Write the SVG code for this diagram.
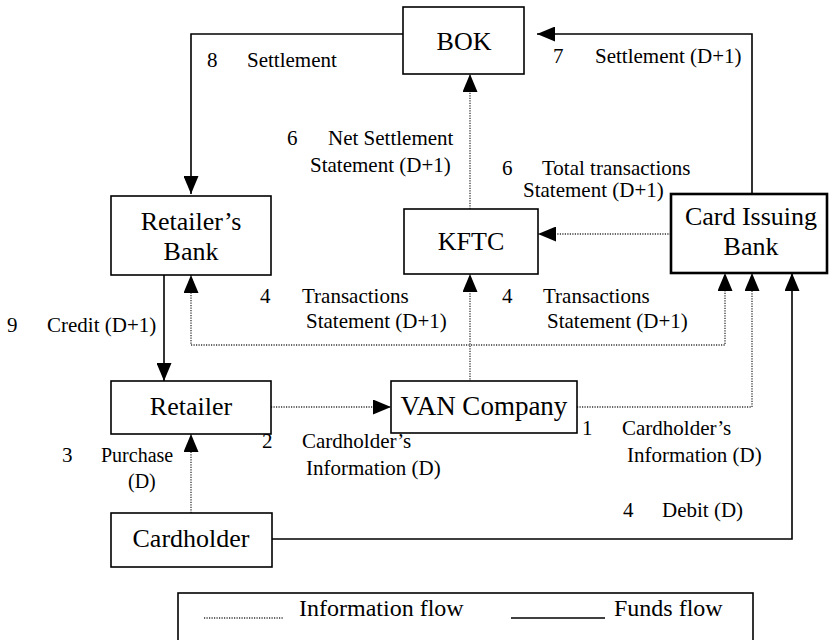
<svg xmlns="http://www.w3.org/2000/svg" width="829" height="640" viewBox="0 0 829 640">
<style>
text{font-family:'Liberation Serif','DejaVu Serif',serif}
.box{fill:#fff;stroke:#000;stroke-width:1.6}
.thick{stroke-width:2.6}
.nt{font-size:26px;fill:#000;text-anchor:middle}
.lb{font-size:21px;fill:#000}
.lg{font-size:24px;fill:#000}
.fund{fill:none;stroke:#000;stroke-width:1.6}
.info{fill:none;stroke:#333;stroke-width:1.3;stroke-dasharray:1.2 1.3}
</style>
<defs>
<marker id="ah" markerUnits="userSpaceOnUse" markerWidth="18" markerHeight="15" refX="18" refY="7.5" orient="auto-start-reverse" viewBox="0 0 18 15">
<path d="M0,0 L18,7.5 L0,15 z" fill="#000"/>
</marker>
</defs>
<g id="connectors">
<path class="fund" d="M403,34 H191 V194" marker-end="url(#ah)"/>
<path class="fund" d="M752,194 V34 H537" marker-end="url(#ah)"/>
<path class="info" d="M470,209 V74" marker-end="url(#ah)"/>
<path class="info" d="M671,234 H538" marker-end="url(#ah)"/>
<path class="info" d="M470,382 V274" marker-end="url(#ah)"/>
<path class="info" d="M191,275 V345 H725 V273" marker-start="url(#ah)" marker-end="url(#ah)"/>
<path class="fund" d="M164,275 V381" marker-end="url(#ah)"/>
<path class="info" d="M271,407 H391" marker-end="url(#ah)"/>
<path class="info" d="M577,407 H752 V273" marker-end="url(#ah)"/>
<path class="info" d="M191,513 V434" marker-end="url(#ah)"/>
<path class="fund" d="M272,539 H792 V273" marker-end="url(#ah)"/>
</g>
<g id="bok"><rect class="box" x="403" y="7" width="121" height="67"/><text class="nt" x="464" y="50">BOK</text></g>
<g id="retailers-bank"><rect class="box" x="111" y="196" width="160" height="79"/><text class="nt" x="191" y="230">Retailer’s</text><text class="nt" x="191" y="260">Bank</text></g>
<g id="kftc"><rect class="box" x="404" y="209" width="134" height="65"/><text class="nt" x="471" y="250">KFTC</text></g>
<g id="card-issuing-bank"><rect class="box thick" x="671" y="194" width="156" height="79"/><text class="nt" x="751" y="225">Card Issuing</text><text class="nt" x="751" y="255">Bank</text></g>
<g id="retailer"><rect class="box" x="111" y="381" width="160" height="53"/><text class="nt" x="191" y="415">Retailer</text></g>
<g id="van-company"><rect class="box" x="391" y="381" width="186" height="52"/><text class="nt" x="484" y="415" style="font-size:27px">VAN Company</text></g>
<g id="cardholder"><rect class="box" x="111" y="513" width="161" height="54"/><text class="nt" x="191" y="547">Cardholder</text></g>
<g id="labels">
<text class="lb" x="207" y="67">8</text><text class="lb" x="247" y="67">Settlement</text>
<text class="lb" x="553" y="63">7</text><text class="lb" x="595" y="63">Settlement (D+1)</text>
<text class="lb" x="287" y="145">6</text><text class="lb" x="328" y="145">Net Settlement</text>
<text class="lb" x="310" y="172">Statement (D+1)</text>
<text class="lb" x="502" y="175">6</text><text class="lb" x="542" y="175">Total transactions</text>
<text class="lb" x="523" y="197">Statement (D+1)</text>
<text class="lb" x="260" y="303">4</text><text class="lb" x="302" y="303">Transactions</text>
<text class="lb" x="306" y="328">Statement (D+1)</text>
<text class="lb" x="502" y="303">4</text><text class="lb" x="543" y="303">Transactions</text>
<text class="lb" x="547" y="328">Statement (D+1)</text>
<text class="lb" x="7" y="332">9</text><text class="lb" x="47" y="332">Credit (D+1)</text>
<text class="lb" x="62" y="462">3</text><text class="lb" x="101" y="462" style="font-size:20px">Purchase</text>
<text class="lb" x="128" y="488" style="font-size:20px">(D)</text>
<text class="lb" x="262" y="448">2</text><text class="lb" x="302" y="448">Cardholder’s</text>
<text class="lb" x="306" y="475">Information (D)</text>
<text class="lb" x="582" y="435">1</text><text class="lb" x="622" y="435">Cardholder’s</text>
<text class="lb" x="627" y="462">Information (D)</text>
<text class="lb" x="623" y="517">4</text><text class="lb" x="662" y="517">Debit (D)</text>
</g>
<g id="legend">
<rect class="box" x="178" y="593" width="575" height="60"/>
<line class="info" x1="204" y1="618" x2="283" y2="618"/>
<text class="lg" x="299" y="616">Information flow</text>
<line class="fund" x1="511" y1="618" x2="605" y2="618"/>
<text class="lg" x="614" y="616">Funds flow</text>
</g>
</svg>
